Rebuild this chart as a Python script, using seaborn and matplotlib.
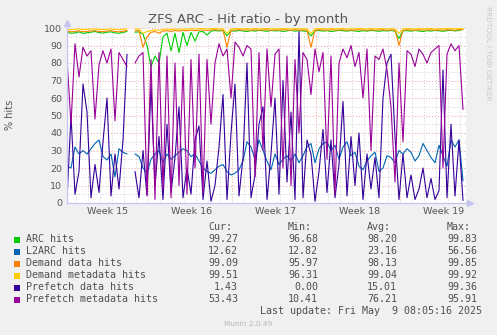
import numpy as np
import pandas as pd
import matplotlib
matplotlib.use("Agg")
import matplotlib.pyplot as plt
import seaborn as sns
from matplotlib.patches import Rectangle

nan = np.nan

title = "ZFS ARC - Hit ratio - by month"
y_label = "% hits"
series_names = ["ARC hits", "L2ARC hits", "Demand data hits",
                "Demand metadata hits", "Prefetch data hits", "Prefetch metadata hits"]
series_colors = ["#00CC00", "#0066B3", "#FF8000", "#FFCC00", "#330099", "#990099"]
cur_vals = ["99.27", "12.62", "99.09", "99.51", "1.43", "53.43"]
min_vals = ["96.68", "12.82", "95.97", "96.31", "0.00", "10.41"]
avg_vals = ["98.20", "23.16", "98.13", "99.04", "15.01", "76.21"]
max_vals = ["99.83", "56.56", "99.85", "99.92", "99.36", "95.91"]
week_labels = ["Week 15", "Week 16", "Week 17", "Week 18", "Week 19"]
week_label_days = [3.42, 10.42, 17.42, 24.42, 31.42]
week_start_days = [6.75, 13.75, 20.75, 27.75]
last_update = "Last update: Fri May  9 08:05:16 2025"
footer = "Munin 2.0.49"
watermark = "RRDTOOL / TOBI OETIKER"

arc_hits = [
    97.5, 97.0, 97.2, 97.8, 96.9, 97.3, 97.6, 98.0, 97.4, 97.1,
    97.6, 97.8, 97.2, 97.0, 97.5, 98.0, nan, 97.6, 97.8, 96.5,
    90.0, 78.0, 84.0, 80.0, 95.0, 97.0, 87.0, 97.0, 86.0, 97.5,
    90.0, 97.5, 92.5, 97.8, 98.0, 96.0, 98.2, 98.5, 98.3, 98.6,
    95.5, 98.4, 98.2, 98.6, 98.3, 98.0, 98.5, 98.2, 98.7, 98.4,
    98.1, 98.6, 98.3, 98.5, 98.0, 98.4, 98.7, 98.2, 98.5, 98.3,
    98.1, 95.5, 98.4, 98.6, 98.2, 98.5, 98.0, 98.3, 98.7, 98.4,
    98.2, 98.6, 98.3, 98.0, 98.5, 98.2, 98.6, 98.4, 98.1, 98.5,
    98.3, 98.6, 98.2, 94.0, 98.4, 98.5, 98.2, 98.6, 98.3, 98.0,
    98.5, 98.2, 98.6, 98.4, 98.1, 98.5, 98.7, 98.3, 98.6, 99.27,
]
l2arc_hits = [
    21, 20, 32, 28, 30, 28, 31, 34, 36, 26.5,
    24.6, 28, 15, 31, 29, 28, nan, 28, 26.5, 20,
    17, 25, 28, 30, 23, 28, 25, 27, 29, 31,
    30, 26.5, 28, 24, 20, 18, 17, 19, 21, 22,
    18, 16, 17, 19, 24, 35, 32, 25, 36, 30,
    24, 19, 28, 22, 25, 27, 24, 28, 23, 27,
    32, 34, 23, 31, 34, 35, 30, 33, 25, 32,
    35, 27, 29, 21, 19, 24, 27, 29, 18, 20,
    27, 26, 23, 30, 28, 31, 29, 24, 27, 34,
    30, 26, 23, 33, 27, 21, 36, 32, 36, 12.62,
]
demand_data_hits = [
    98.2, 97.8, 98.0, 98.4, 97.9, 98.1, 98.3, 98.5, 98.0, 97.9,
    98.3, 98.5, 98.0, 97.8, 98.2, 98.6, nan, 98.4, 98.5, 89.0,
    95.0, 97.5, 98.0, 97.0, 98.2, 98.5, 98.0, 98.6, 98.2, 98.7,
    98.4, 98.8, 98.5, 98.8, 98.9, 98.6, 98.9, 99.0, 98.8, 98.9,
    89.0, 98.7, 98.9, 99.0, 98.8, 98.9, 98.7, 99.0, 98.8, 98.9,
    99.0, 98.7, 98.9, 98.8, 99.0, 98.9, 98.7, 99.0, 98.8, 98.9,
    98.8, 89.0, 98.8, 99.0, 98.9, 98.7, 99.0, 98.8, 98.9, 99.0,
    98.7, 98.9, 98.8, 99.0, 98.9, 98.7, 99.0, 98.8, 98.9, 99.0,
    98.7, 98.9, 98.8, 90.0, 98.8, 99.0, 98.9, 98.7, 99.0, 98.8,
    98.9, 99.0, 98.7, 98.9, 98.8, 99.0, 98.9, 98.8, 99.0, 99.09,
]
demand_metadata_hits = [
    99.2, 99.0, 99.3, 99.4, 99.1, 99.2, 99.4, 99.5, 99.2, 99.1,
    99.3, 99.4, 99.2, 99.0, 99.3, 99.5, nan, 99.4, 99.5, 97.0,
    98.0, 98.5, 99.0, 98.6, 99.2, 99.4, 99.1, 99.4, 99.2, 99.5,
    99.3, 99.6, 99.4, 99.6, 99.7, 99.5, 99.6, 99.7, 99.5, 99.6,
    97.0, 99.5, 99.6, 99.7, 99.5, 99.6, 99.4, 99.7, 99.5, 99.6,
    99.7, 99.5, 99.6, 99.5, 99.7, 99.6, 99.4, 99.7, 99.5, 99.6,
    99.5, 97.0, 99.5, 99.7, 99.6, 99.4, 99.7, 99.5, 99.6, 99.7,
    99.4, 99.6, 99.5, 99.7, 99.6, 99.4, 99.7, 99.5, 99.6, 99.7,
    99.4, 99.6, 99.5, 97.0, 99.5, 99.7, 99.6, 99.4, 99.7, 99.5,
    99.6, 99.7, 99.4, 99.6, 99.5, 99.7, 99.6, 99.5, 99.7, 99.51,
]
prefetch_data_hits = [
    2, 50, 5, 18, 68, 52, 3, 22, 6, 35,
    60, 4, 28, 8, 36, 85, nan, 18, 3, 30,
    4, 68, 10, 38, 2, 45, 6, 26, 55, 3,
    20, 5, 36, 44, 2, 24, 1, 10, 32, 62,
    2, 40, 68, 4, 26, 80, 3, 16, 45, 55,
    2, 28, 60, 5, 70, 12, 52, 2, 98, 3,
    36, 28, 1, 18, 42, 6, 36, 3, 22, 58,
    4, 38, 10, 40, 2, 28, 8, 26, 3, 60,
    80, 85, 38, 2, 28, 3, 16, 2, 8, 20,
    3, 14, 2, 7, 76, 3, 45, 4, 36, 1.43,
]
prefetch_metadata_hits = [
    82, 45, 91, 72, 89, 84, 87, 48, 79, 87,
    80, 88, 47, 86, 82, 78, nan, 80, 84, 86,
    5, 82, 2, 86, 8, 84, 3, 80, 10, 78,
    5, 82, 20, 85, 6, 82, 45, 80, 91, 84,
    88, 60, 92, 89, 84, 90, 88, 15, 86, 30,
    88, 55, 85, 88, 20, 84, 10, 82, 40, 86,
    82, 62, 88, 75, 86, 25, 84, 5, 80, 88,
    83, 90, 78, 86, 60, 88, 30, 84, 82, 88,
    76, 55, 12, 80, 35, 87, 85, 78, 88, 85,
    80, 86, 88, 90, 20, 85, 91, 87, 90, 53.43,
]

series_values = [arc_hits, l2arc_hits, demand_data_hits,
                 demand_metadata_hits, prefetch_data_hits, prefetch_metadata_hits]

# samples every 8 hours (1/3 day)
n = len(arc_hits)
days = np.arange(n) / 3.0

frames = []
for name, vals in zip(series_names, series_values):
    v = np.array(vals, dtype=float)
    seg = np.cumsum(np.isnan(v))
    frames.append(pd.DataFrame({"day": days, "value": v, "series": name, "seg": seg}))
df = pd.concat(frames, ignore_index=True).dropna()

W, H = 497, 335
sns.set_theme(style="white")
plt.rcParams["font.family"] = ["DejaVu Sans"]
fig = plt.figure(figsize=(W / 100, H / 100), dpi=100)
fig.patch.set_facecolor("#F0F0F0")

L, R, T, B = 67, 466, 28, 203
ax = fig.add_axes([L / W, 1 - B / H, (R - L) / W, (B - T) / H])
ax.set_facecolor("white")

xmax = (R - L) / 12.0
ax.set_xlim(0, xmax)
ax.set_ylim(0, 100)

grid_minor = "#CFCFCF"
grid_major = "#E8A0A0"
dots = (0, (1, 2))
for y in range(5, 100, 10):
    ax.axhline(y, color=grid_minor, lw=0.7, ls=dots, zorder=0)
for y in range(10, 101, 10):
    ax.axhline(y, color=grid_major, lw=0.7, ls=dots, zorder=0, clip_on=False)
d = 0.75
while d < xmax:
    if all(abs(d - w) > 0.01 for w in week_start_days):
        ax.axvline(d, color=grid_minor, lw=0.7, ls=dots, zorder=0)
    d += 1.0
for w in week_start_days:
    ax.axvline(w, color=grid_major, lw=0.7, ls=dots, zorder=0)

sns.lineplot(data=df, x="day", y="value", hue="series", hue_order=series_names,
             palette=series_colors, units="seg", estimator=None, sort=False,
             linewidth=0.8, legend=False, ax=ax)

for s in ["top", "right"]:
    ax.spines[s].set_visible(False)
axis_col = "#C4C4F0"
for s in ["left", "bottom"]:
    ax.spines[s].set_color(axis_col)
    ax.spines[s].set_linewidth(0.9)
ax.plot([0, 0], [1, 1 + 5 / 175], transform=ax.transAxes, color=axis_col, lw=0.9, clip_on=False)
ax.plot([0], [1 + 5 / 175], transform=ax.transAxes, marker="^", ms=4, color=axis_col, clip_on=False)
ax.plot([1, 1 + 4 / 399], [0, 0], transform=ax.transAxes, color=axis_col, lw=0.9, clip_on=False)
ax.plot([1 + 4 / 399], [0], transform=ax.transAxes, marker=">", ms=4, color=axis_col, clip_on=False)

ax.set_yticks(range(0, 101, 10))
ax.set_yticklabels([str(v) for v in range(0, 101, 10)])
ax.set_xticks(week_label_days)
ax.set_xticklabels(week_labels)
ax.tick_params(axis="both", length=0, labelsize=6.8, colors="#555555")
ax.tick_params(axis="y", pad=3.5)
ax.tick_params(axis="x", pad=3)
ax.set_xlabel("")
ax.set_ylabel("")


def fx(x):
    return x / W


def fy(y):
    return 1 - y / H


fig.text(fx(248), fy(19), title, ha="center", va="center", fontsize=9.5, color="#555555")
fig.text(fx(10), fy(115), y_label, ha="center", va="center", rotation=90, fontsize=7, color="#555555")
fig.text(fx(488), fy(6), watermark, ha="center", va="top", rotation=270, fontsize=5.3, color="#C8C8C8")

mono = "DejaVu Sans Mono"
fs = 7.2
txt_col = "#505050"
fig.text(fx(208), fy(227), "Cur:", ha="left", va="center", family=mono, fontsize=fs, color=txt_col)
fig.text(fx(288), fy(227), "Min:", ha="left", va="center", family=mono, fontsize=fs, color=txt_col)
fig.text(fx(367), fy(227), "Avg:", ha="left", va="center", family=mono, fontsize=fs, color=txt_col)
fig.text(fx(447), fy(227), "Max:", ha="left", va="center", family=mono, fontsize=fs, color=txt_col)
row_y = [239.5, 251.5, 263.5, 275.5, 287.5, 299.5]
for k, name in enumerate(series_names):
    y = row_y[k]
    fig.patches.append(Rectangle((fx(14), fy(y + 3)), 6 / W, 6 / H, transform=fig.transFigure,
                                 facecolor=series_colors[k], edgecolor="none"))
    fig.text(fx(26), fy(y), name, ha="left", va="center", family=mono, fontsize=fs, color=txt_col)
    fig.text(fx(238), fy(y), cur_vals[k], ha="right", va="center", family=mono, fontsize=fs, color=txt_col)
    fig.text(fx(318), fy(y), min_vals[k], ha="right", va="center", family=mono, fontsize=fs, color=txt_col)
    fig.text(fx(397), fy(y), avg_vals[k], ha="right", va="center", family=mono, fontsize=fs, color=txt_col)
    fig.text(fx(477), fy(y), max_vals[k], ha="right", va="center", family=mono, fontsize=fs, color=txt_col)
fig.text(fx(482), fy(311.5), last_update, ha="right", va="center", family=mono, fontsize=fs, color=txt_col)
fig.text(fx(248), fy(324), footer, ha="center", va="center", fontsize=5.3, color="#B8B8B8")

fig.savefig("out.png", dpi=100, facecolor=fig.get_facecolor())
